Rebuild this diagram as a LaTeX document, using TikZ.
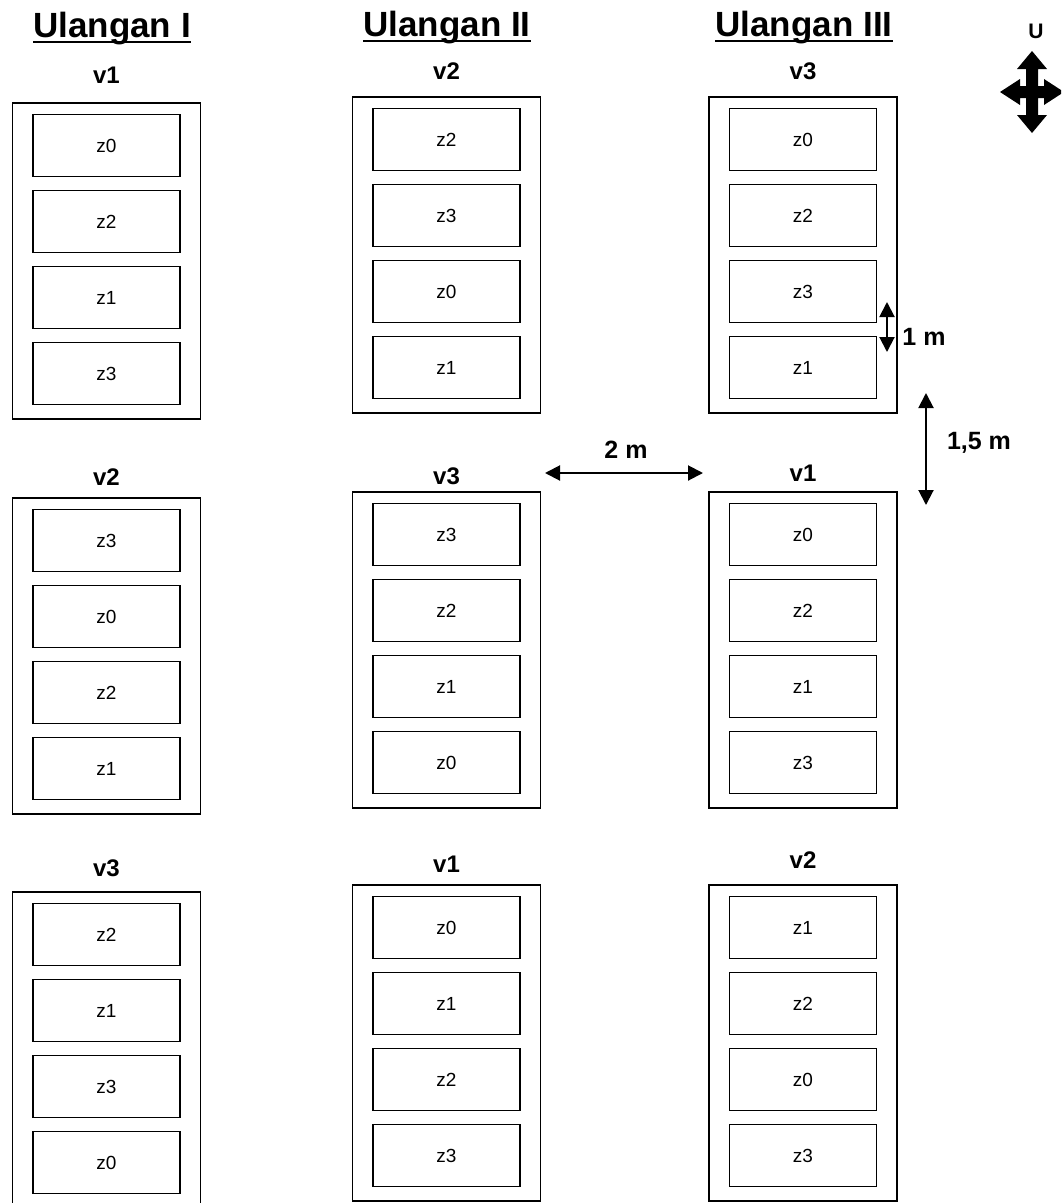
\documentclass[tikz,border=0pt]{standalone}
\usepackage{fontspec}
\setmainfont{Liberation Sans}
\usetikzlibrary{arrows.meta}

% one treatment block: outer plot frame, its label and four sub-plots
\newcommand\plotblock[6]{%
  \node[plotframe] (#1) at (#2,{#3+158}) {};
  \node[plotlabel] (#1-lab) at (#2,#4) {#5};
  \foreach \z [count=\i] in {#6} {
    \node[subplot] (#1-\i) at (#2,{#3+42.5+76*(\i-1)}) {\z};
  }%
}

\begin{document}
\begin{tikzpicture}[x=1pt,y=-1pt,
  plotframe/.style={draw,line width=1.4pt,minimum width=188pt,minimum height=316pt,inner sep=0pt},
  subplot/.style={draw,line width=1.4pt,minimum width=147pt,minimum height=62pt,inner sep=0pt,
    font=\fontsize{19}{22}\selectfont},
  plotlabel/.style={inner sep=0pt,font=\bfseries\fontsize{24}{28}\selectfont},
  heading/.style={inner sep=0pt,anchor=base,font=\bfseries\fontsize{35}{40}\selectfont},
  dimtext/.style={inner sep=0pt,font=\bfseries\fontsize{25}{29}\selectfont},
  dimline/.style={line width=2pt,{Triangle[length=15pt,width=15pt]}-{Triangle[length=15pt,width=15pt]}}]
\useasboundingbox (0,0) rectangle (1061,1203);
\clip (0,0) rectangle (1061,1203);

% column headings
\node[heading] (h1) at (112,37) {Ulangan I};
\node[heading] (h2) at (447,36) {Ulangan II};
\node[heading] (h3) at (804,36) {Ulangan III};
\foreach \h in {h1,h2,h3}
  \draw[line width=2.8pt] ([yshift=-5pt]\h.base west) -- ([yshift=-5pt]\h.base east);

% Ulangan I
\plotblock{a1}{106.5}{103}{75}{v1}{z0,z2,z1,z3}
\plotblock{a2}{106.5}{498}{477}{v2}{z3,z0,z2,z1}
\plotblock{a3}{106.5}{892}{868}{v3}{z2,z1,z3,z0}
% Ulangan II
\plotblock{b1}{446.5}{97}{71}{v2}{z2,z3,z0,z1}
\plotblock{b2}{446.5}{492}{476}{v3}{z3,z2,z1,z0}
\plotblock{b3}{446.5}{885}{864}{v1}{z0,z1,z2,z3}
% Ulangan III
\plotblock{c1}{803}{97}{71}{v3}{z0,z2,z3,z1}
\plotblock{c2}{803}{492}{473}{v1}{z0,z2,z1,z3}
\plotblock{c3}{803}{885}{860}{v2}{z1,z2,z0,z3}

% spacing dimensions
\coordinate (d1a) at (887,302);
\coordinate (d1b) at (887,352);
\draw[dimline] (d1a) -- (d1b);
\node[dimtext] (d1t) at (924,337) {1 m};

\coordinate (d2a) at (926,393);
\coordinate (d2b) at (926,505);
\draw[dimline] (d2a) -- (d2b);
\node[dimtext] (d2t) at (979,443) {1,5 m};

\coordinate (d3a) at (545,473);
\coordinate (d3b) at (703,473);
\draw[dimline] (d3a) -- (d3b);
\node[dimtext] (d3t) at (626,450) {2 m};

% north sign
\node[inner sep=0pt,font=\bfseries\fontsize{21}{25}\selectfont] (north) at (1036,31) {U};
\fill (1032,92) ++(0,-41) -- ++(15,18) -- ++(-9,0) -- ++(0,17) -- ++(6,0) -- ++(0,-7)
  -- ++(20,13) -- ++(-20,13) -- ++(0,-7) -- ++(-6,0) -- ++(0,17) -- ++(9,0)
  -- ++(-15,18) -- ++(-15,-18) -- ++(9,0) -- ++(0,-17) -- ++(-6,0) -- ++(0,7)
  -- ++(-20,-13) -- ++(20,-13) -- ++(0,7) -- ++(6,0) -- ++(0,-17) -- ++(-9,0) -- cycle;
\end{tikzpicture}
\end{document}
